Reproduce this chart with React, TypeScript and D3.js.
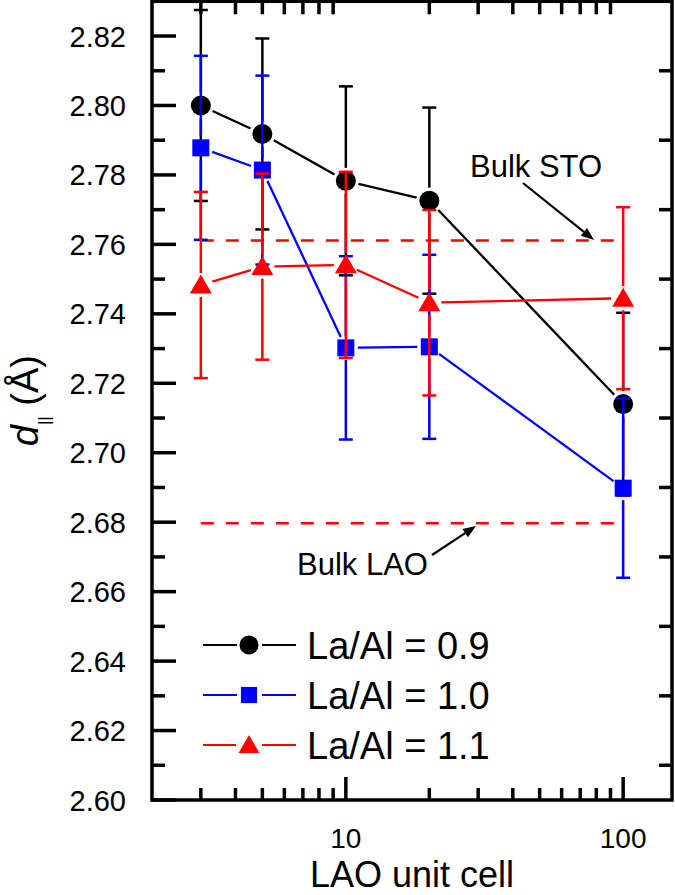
import React from 'react';
import * as d3 from 'd3';

// ---- data ----
const cells = [3, 5, 10, 20, 100];
const d09 = [2.8, 2.7918, 2.7783, 2.7726, 2.714];
const e09 = [0.0275, 0.0275, 0.0272, 0.0268, 0.0263];
const d10 = [2.7878, 2.7814, 2.7302, 2.7305, 2.6898];
const e10 = [0.0265, 0.0272, 0.0264, 0.0265, 0.0258];
const d11 = [2.7483, 2.7536, 2.7541, 2.7432, 2.7445];
const e11 = [0.0268, 0.0268, 0.0268, 0.0267, 0.0262];
const seriesNames = ['La/Al = 0.9', 'La/Al = 1.0', 'La/Al = 1.1'];
const bulkSTO = 2.7611;
const bulkLAO = 2.6797;
const bulkRange = [3, 100];
const yMajor = [2.6, 2.62, 2.64, 2.66, 2.68, 2.7, 2.72, 2.74, 2.76, 2.78, 2.8, 2.82];
const yMinor = [2.61, 2.63, 2.65, 2.67, 2.69, 2.71, 2.73, 2.75, 2.77, 2.79, 2.81];
const xMajor = [10, 100];
const xMinor = [2, 3, 4, 5, 6, 7, 8, 9, 20, 30, 40, 50, 60, 70, 80, 90];

const W = 675, H = 895;
const L = 152, R = 672, T = 1.3, B = 800;
const FONT = "'Liberation Sans', Arial, Helvetica, sans-serif";

const x = d3.scaleLog().domain([2, 150]).range([L, R]);
const y = d3.scaleLinear().domain([2.6, 2.83]).range([B, T]);

type Shape = 'circle' | 'square' | 'triangle';

function Marker({ shape, cx, cy, color, scale = 1 }: { shape: Shape; cx: number; cy: number; color: string; scale?: number }) {
  if (shape === 'circle') return <circle cx={cx} cy={cy} r={10 * scale} fill={color} />;
  if (shape === 'square') {
    const s = 17 * scale;
    return <rect x={cx - s / 2} y={cy - s / 2} width={s} height={s} fill={color} />;
  }
  const p = d3.path();
  p.moveTo(cx, cy - 10.5 * scale);
  p.lineTo(cx + 11 * scale, cy + 8.5 * scale);
  p.lineTo(cx - 11 * scale, cy + 8.5 * scale);
  p.closePath();
  return <path d={p.toString()} fill={color} />;
}

function Series({ vals, errs, color, shape, gap }: { vals: number[]; errs: number[]; color: string; shape: Shape; gap: number }) {
  const pts = cells.map((c, i) => [x(c), y(vals[i])] as [number, number]);
  const segs = [];
  for (let i = 0; i < pts.length - 1; i++) {
    const [x0, y0] = pts[i];
    const [x1, y1] = pts[i + 1];
    const len = Math.hypot(x1 - x0, y1 - y0);
    const ux = (x1 - x0) / len, uy = (y1 - y0) / len;
    segs.push(
      <line key={'s' + i} x1={x0 + ux * gap} y1={y0 + uy * gap} x2={x1 - ux * gap} y2={y1 - uy * gap}
        stroke={color} strokeWidth={2.3} />
    );
  }
  const bars = pts.map(([px, py], i) => {
    const top = y(vals[i] + errs[i]);
    const bot = y(vals[i] - errs[i]);
    return (
      <g key={'e' + i} stroke={color} strokeWidth={2.5}>
        <line x1={px} x2={px} y1={py - gap} y2={top} />
        <line x1={px - 7} x2={px + 7} y1={top} y2={top} />
        <line x1={px} x2={px} y1={py + gap} y2={bot} />
        <line x1={px - 7} x2={px + 7} y1={bot} y2={bot} />
      </g>
    );
  });
  return (
    <g>
      {segs}
      {pts.map(([px, py], i) => <Marker key={'m' + i} shape={shape} cx={px} cy={py} color={color} />)}
      {bars}
    </g>
  );
}

function Arrow({ x1, y1, x2, y2 }: { x1: number; y1: number; x2: number; y2: number }) {
  const len = Math.hypot(x2 - x1, y2 - y1);
  const ux = (x2 - x1) / len, uy = (y2 - y1) / len;
  const hl = 13, hw = 5;
  const bx = x2 - ux * hl, by = y2 - uy * hl;
  const p = d3.path();
  p.moveTo(x2, y2);
  p.lineTo(bx - uy * hw, by + ux * hw);
  p.lineTo(bx + uy * hw, by - ux * hw);
  p.closePath();
  return (
    <g>
      <line x1={x1} y1={y1} x2={bx} y2={by} stroke="#000" strokeWidth={2.2} />
      <path d={p.toString()} fill="#000" />
    </g>
  );
}

export default function App() {
  const series = [
    { vals: d09, errs: e09, color: '#000000', shape: 'circle' as Shape, gap: 13 },
    { vals: d10, errs: e10, color: '#0000ff', shape: 'square' as Shape, gap: 12 },
    { vals: d11, errs: e11, color: '#ff0000', shape: 'triangle' as Shape, gap: 12 },
  ];
  const legendY = [645, 695, 745];
  return (
    <svg width={W} height={H} style={{ position: 'absolute', left: 0, top: 0, background: '#fff' }} fontFamily={FONT}>
      <rect x={0} y={0} width={W} height={H} fill="#fff" />
      {/* bulk reference lines */}
      {[bulkSTO, bulkLAO].map((v, i) => (
        <line key={'b' + i} x1={x(bulkRange[0])} x2={x(bulkRange[1])} y1={y(v)} y2={y(v)}
          stroke="#ff0000" strokeWidth={2.5} strokeDasharray="13,12" />
      ))}
      {series.map((s, i) => <Series key={i} {...s} />)}

      {/* annotations */}
      <text x={470} y={177} fontSize={31}>Bulk STO</text>
      <Arrow x1={523} y1={183} x2={594} y2={240} />
      <text x={297} y={575} fontSize={31}>Bulk LAO</text>
      <Arrow x1={432} y1={555} x2={476} y2={526} />

      {/* legend */}
      {series.map((s, i) => (
        <g key={'lg' + i}>
          <line x1={203} x2={s.shape === 'triangle' ? 236 : 237} y1={legendY[i]} y2={legendY[i]} stroke={s.color} strokeWidth={2.2} />
          <line x1={262} x2={296} y1={legendY[i]} y2={legendY[i]} stroke={s.color} strokeWidth={2.2} />
          <Marker shape={s.shape} cx={249} cy={legendY[i]} color={s.color} scale={0.95} />
          <text x={307} y={legendY[i] + 14} fontSize={38}>{seriesNames[i]}</text>
        </g>
      ))}

      {/* frame */}
      <rect x={L} y={T} width={R - L} height={B - T} fill="none" stroke="#000" strokeWidth={3.5} />
      {/* left ticks */}
      {yMajor.map((v) => <line key={'ly' + v} x1={L} x2={L + 24} y1={y(v)} y2={y(v)} stroke="#000" strokeWidth={3.5} />)}
      {yMinor.map((v) => <line key={'lm' + v} x1={L} x2={L + 13} y1={y(v)} y2={y(v)} stroke="#000" strokeWidth={3.5} />)}
      {/* right ticks */}
      {yMinor.map((v) => <line key={'rm' + v} x1={R} x2={R - 13} y1={y(v)} y2={y(v)} stroke="#000" strokeWidth={3.5} />)}
      {/* bottom ticks */}
      {xMajor.map((v) => <line key={'bx' + v} x1={x(v)} x2={x(v)} y1={B} y2={B - 23} stroke="#000" strokeWidth={3.5} />)}
      {xMinor.filter((v) => v > 2).map((v) => <line key={'bm' + v} x1={x(v)} x2={x(v)} y1={B} y2={B - 12} stroke="#000" strokeWidth={3.5} />)}
      {/* top ticks */}
      {xMinor.filter((v) => v > 2).map((v) => <line key={'tm' + v} x1={x(v)} x2={x(v)} y1={T} y2={T + 13} stroke="#000" strokeWidth={3.5} />)}

      {/* tick labels */}
      {yMajor.map((v) => (
        <text key={'yl' + v} x={126} y={y(v) + 10.5} fontSize={29} textAnchor="end">{v.toFixed(2)}</text>
      ))}
      {xMajor.map((v) => (
        <text key={'xl' + v} x={x(v)} y={848} fontSize={28} textAnchor="middle">{v}</text>
      ))}

      {/* axis titles */}
      <text x={(L + R) / 2} y={887} fontSize={36} textAnchor="middle">LAO unit cell</text>
      <text transform={`translate(38, ${(T + B) / 2}) rotate(-90)`} fontSize={38} textAnchor="middle">
        <tspan fontStyle="italic">d</tspan>
        <tspan fontSize={17} dy={12}>||</tspan>
        <tspan dy={-12}> (Å)</tspan>
      </text>
    </svg>
  );
}
